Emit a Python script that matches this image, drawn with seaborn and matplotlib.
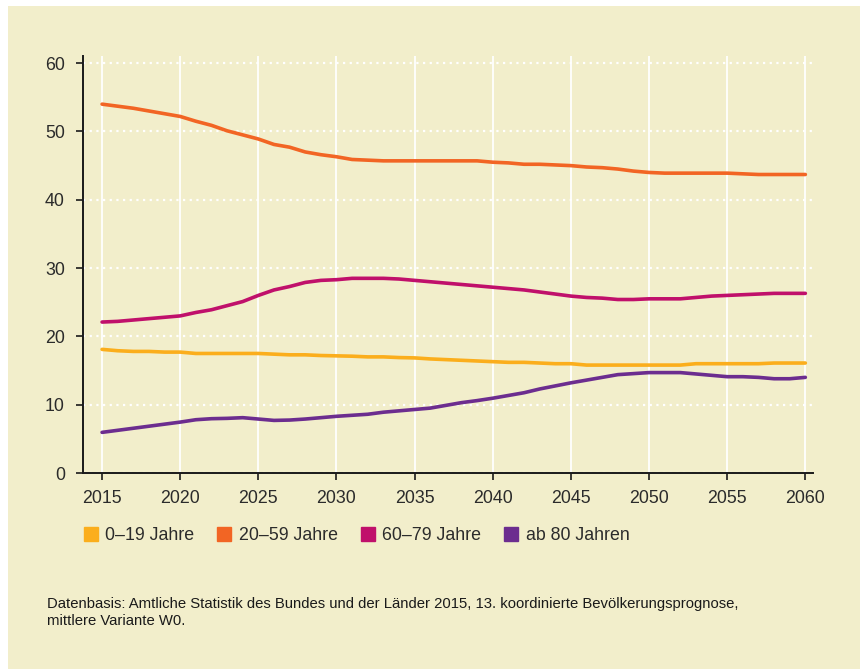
import numpy as np
import pandas as pd
import matplotlib.pyplot as plt
from matplotlib.lines import Line2D
from matplotlib.patches import Rectangle
import seaborn as sns

years = list(range(2015, 2061))

age_0_19 = [18.1, 17.9, 17.8, 17.8, 17.7, 17.7, 17.5, 17.5, 17.5, 17.5,
            17.5, 17.4, 17.3, 17.3, 17.2, 17.15, 17.1, 17.0, 17.0, 16.9,
            16.85, 16.7, 16.6, 16.5, 16.4, 16.3, 16.2, 16.2, 16.1, 16.0,
            16.0, 15.8, 15.8, 15.8, 15.8, 15.8, 15.8, 15.8, 16.0, 16.0,
            16.0, 16.0, 16.0, 16.1, 16.1, 16.1]
age_20_59 = [54.0, 53.7, 53.4, 53.0, 52.6, 52.2, 51.5, 50.9, 50.1, 49.5,
             48.9, 48.1, 47.7, 47.0, 46.6, 46.3, 45.9, 45.8, 45.7, 45.7,
             45.7, 45.7, 45.7, 45.7, 45.7, 45.5, 45.4, 45.2, 45.2, 45.1,
             45.0, 44.8, 44.7, 44.5, 44.2, 44.0, 43.9, 43.9, 43.9, 43.9,
             43.9, 43.8, 43.7, 43.7, 43.7, 43.7]
age_60_79 = [22.1, 22.2, 22.4, 22.6, 22.8, 23.0, 23.5, 23.9, 24.5, 25.1,
             26.0, 26.8, 27.3, 27.9, 28.2, 28.3, 28.5, 28.5, 28.5, 28.4,
             28.2, 28.0, 27.8, 27.6, 27.4, 27.2, 27.0, 26.8, 26.5, 26.2,
             25.9, 25.7, 25.6, 25.4, 25.4, 25.5, 25.5, 25.5, 25.7, 25.9,
             26.0, 26.1, 26.2, 26.3, 26.3, 26.3]
age_80 = [5.95, 6.25, 6.55, 6.85, 7.15, 7.45, 7.8, 7.95, 8.0, 8.1,
          7.9, 7.7, 7.75, 7.9, 8.1, 8.3, 8.45, 8.6, 8.9, 9.1,
          9.3, 9.5, 9.9, 10.3, 10.6, 10.95, 11.35, 11.75, 12.3, 12.75,
          13.2, 13.6, 14.0, 14.4, 14.55, 14.7, 14.7, 14.7, 14.5, 14.3,
          14.1, 14.1, 14.0, 13.8, 13.8, 14.0]

labels = ["0\u201319 Jahre", "20\u201359 Jahre", "60\u201379 Jahre", "ab 80 Jahren"]
colors = ["#FBAE1C", "#F26524", "#C0106B", "#6C2D8F"]
year_ticks = list(range(2015, 2061, 5))

bg = "#F2EECB"
text_col = "#2b2b2b"

df = pd.DataFrame({"Jahr": years,
                   labels[0]: age_0_19,
                   labels[1]: age_20_59,
                   labels[2]: age_60_79,
                   labels[3]: age_80})
long = df.melt(id_vars="Jahr", var_name="Gruppe", value_name="Anteil")

sns.set_style("white")
plt.rcParams["font.family"] = ["Liberation Sans", "DejaVu Sans"]

fig = plt.figure(figsize=(8.6, 6.69), dpi=100, facecolor="white")
fig.patches.append(Rectangle((8 / 860, 0), 1, 1 - 6 / 669, transform=fig.transFigure,
                             facecolor=bg, edgecolor="none", zorder=-10))
ax = fig.add_axes([83 / 860, (669 - 473) / 669, (813 - 83) / 860, (473 - 56) / 669])
ax.set_facecolor(bg)

sns.lineplot(data=long, x="Jahr", y="Anteil", hue="Gruppe", hue_order=labels,
             palette=colors, linewidth=2.6, legend=False, ax=ax, zorder=3)

ax.set_xlim(2013.78, 2060.49)
ax.set_ylim(0, 61.05)
ax.set_xticks(year_ticks)
ax.set_yticks(range(0, 61, 10))
ax.set_xlabel("")
ax.set_ylabel("")

ax.xaxis.grid(True, color="white", linewidth=1.3, linestyle="-")
ax.yaxis.grid(True, color="white", linewidth=1.6, linestyle=(0, (1, 2)))
ax.set_axisbelow(True)

for side in ["top", "right"]:
    ax.spines[side].set_visible(False)
for side in ["left", "bottom"]:
    ax.spines[side].set_color("#1a1a1a")
    ax.spines[side].set_linewidth(1.4)

ax.tick_params(axis="both", direction="out", length=5, width=1.2, color="#1a1a1a",
               labelsize=12.8, labelcolor=text_col, left=True, bottom=True)
ax.tick_params(axis="x", pad=7)
ax.tick_params(axis="y", pad=8)

handles = [Line2D([0], [0], marker="s", linestyle="none", markersize=10,
                  markerfacecolor=c, markeredgecolor=c) for c in colors]
fig.legend(handles, labels, loc="center left", bbox_to_anchor=(66 / 860, 1 - 536 / 669),
           ncol=4, frameon=False, fontsize=12.8, labelcolor=text_col,
           handlelength=1.0, handletextpad=0.3, columnspacing=1.2)

footer = ["Datenbasis: Amtliche Statistik des Bundes und der L\u00e4nder 2015, 13. koordinierte Bev\u00f6lkerungsprognose,",
          "mittlere Variante W0."]
for line, ypix in zip(footer, [604, 621]):
    fig.text(47 / 860, 1 - ypix / 669, line, fontsize=10.7, color="#1a1a1a", va="center",
             family=["Liberation Sans Narrow", "Liberation Sans", "DejaVu Sans"])

fig.savefig("out.png", dpi=100, facecolor=fig.get_facecolor())
